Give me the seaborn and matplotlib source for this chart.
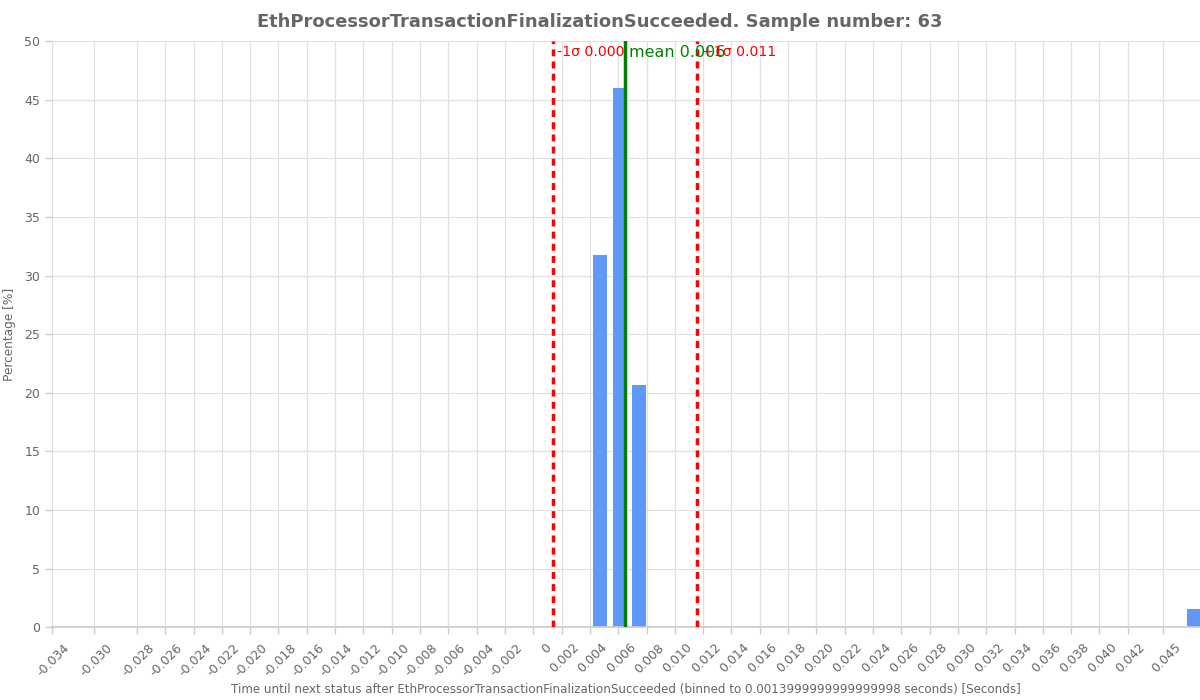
import numpy as np
import pandas as pd
import seaborn as sns
import matplotlib
matplotlib.use("Agg")
import matplotlib.pyplot as plt
from matplotlib.transforms import ScaledTranslation

# data
event_name = "EthProcessorTransactionFinalizationSucceeded"
sample_number = 63
bin_width = 0.0013999999999999998
bin_centers = [0.0047, 0.0061, 0.0075, 0.0467]
bin_counts = [20, 29, 13, 1]

mean_value = 0.0065
minus_sigma_value = 0.0014
plus_sigma_value = 0.0116
mean_label = "mean 0.006"
minus_sigma_label = "-1σ 0.000"
plus_sigma_label = "+1σ 0.011"

tick_values = [-0.034, -0.031, -0.028, -0.026, -0.024, -0.022, -0.020, -0.018,
               -0.016, -0.014, -0.012, -0.010, -0.008, -0.006, -0.004, -0.002,
               0.0, 0.002, 0.004, 0.006, 0.008, 0.010, 0.012, 0.014, 0.016,
               0.018, 0.020, 0.022, 0.024, 0.026, 0.028, 0.030, 0.032, 0.034,
               0.036, 0.038, 0.040, 0.042, 0.0445]
tick_labels = ["-0.034", "-0.030", "-0.028", "-0.026", "-0.024", "-0.022",
               "-0.020", "-0.018", "-0.016", "-0.014", "-0.012", "-0.010",
               "-0.008", "-0.006", "-0.004", "-0.002", "0", "0.002", "0.004",
               "0.006", "0.008", "0.010", "0.012", "0.014", "0.016", "0.018",
               "0.020", "0.022", "0.024", "0.026", "0.028", "0.030", "0.032",
               "0.034", "0.036", "0.038", "0.040", "0.042", "0.045"]
x_range = [-0.034, 0.0471]
y_range = [0, 50]

grey = "#666666"

sns.set_theme(style="whitegrid")
plt.rcParams["font.family"] = ["DejaVu Sans"]

df = pd.DataFrame({"time": bin_centers,
                   "percentage": np.array(bin_counts) / sample_number * 100})

fig = plt.figure(figsize=(12, 7), dpi=100)
ax = fig.add_axes([0.0433, 0.104, 0.9567, 0.837])

sns.barplot(data=df, x="time", y="percentage", native_scale=True, width=0.7,
            color="#5f97fa", saturation=1, ax=ax, zorder=2, linewidth=0)

ax.axvline(minus_sigma_value, color="red", linestyle=(0, (2, 1.5)), linewidth=2.5, zorder=3)
ax.axvline(plus_sigma_value, color="red", linestyle=(0, (2, 1.5)), linewidth=2.5, zorder=3)
ax.axvline(mean_value, color="green", linewidth=2.5, zorder=3)

ax.annotate(minus_sigma_label, xy=(minus_sigma_value, 50), xytext=(3, -2.5),
            textcoords="offset points", color="red", fontsize=10.2, va="top", ha="left")
ax.annotate(mean_label, xy=(mean_value, 50), xytext=(3, -2.5),
            textcoords="offset points", color="green", fontsize=11.5, va="top", ha="left")
ax.annotate(plus_sigma_label, xy=(plus_sigma_value, 50), xytext=(3, -2.5),
            textcoords="offset points", color="red", fontsize=10.2, va="top", ha="left")

ax.set_xlim(x_range)
ax.set_ylim(y_range)
ax.set_yticks(np.arange(0, 51, 5))
ax.tick_params(axis="both", colors="#cccccc", labelcolor=grey, labelsize=9,
               length=5, width=1, direction="out", bottom=True, left=True)
ax.set_xticks(tick_values)
ax.set_xticklabels(tick_labels, rotation=45, ha="right", va="top", rotation_mode="anchor")

# labels sit a bit right of their tick in the reference
offset = ScaledTranslation(11 / 100, -2 / 100, fig.dpi_scale_trans)
for lbl in ax.get_xticklabels():
    lbl.set_transform(lbl.get_transform() + offset)

ax.grid(True, color="#e0e0e0", linewidth=0.9)
for side in ["top", "right", "left"]:
    ax.spines[side].set_visible(False)
ax.spines["bottom"].set_color("#cccccc")

ax.set_xlabel(f"Time until next status after {event_name} (binned to {bin_width} seconds) [Seconds]",
              color=grey, fontsize=8.6, labelpad=3)
ax.set_ylabel("Percentage [%]", color=grey, fontsize=8.7, labelpad=6)
fig.suptitle(f"{event_name}. Sample number: {sample_number}", color=grey,
             fontsize=12.9, fontweight="bold", y=0.982)

fig.savefig("out.png", dpi=100)
